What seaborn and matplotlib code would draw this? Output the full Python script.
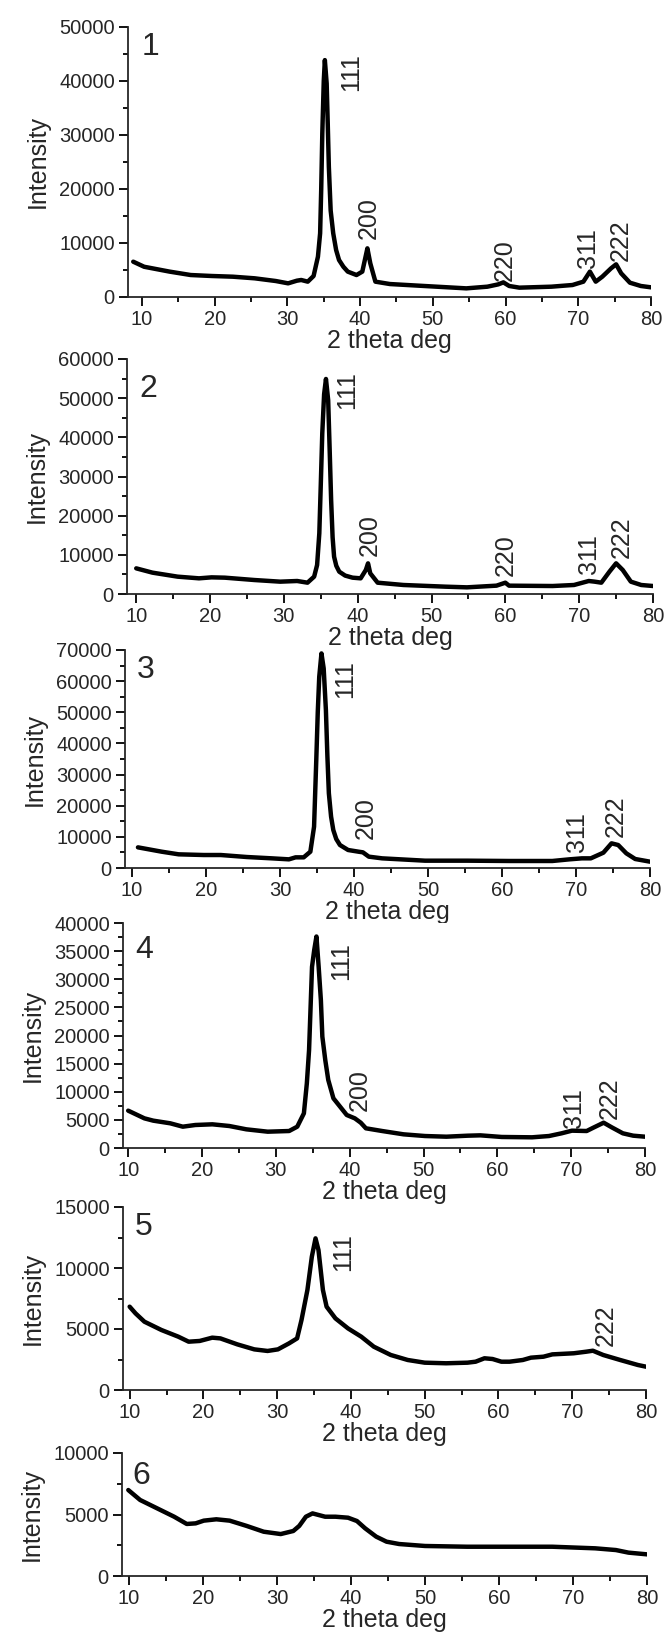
import matplotlib
matplotlib.use("Agg")
import matplotlib.pyplot as plt
from matplotlib.ticker import MultipleLocator
import seaborn as sns
import numpy as np

# ---------------- data ----------------
x1 = [8.8, 10.3, 13.8, 16.7, 19.6, 22.5, 25.5, 28.4, 30.1, 31.3, 31.9, 32.8, 33.6, 34.2, 34.5, 34.65,
      34.8, 35.0, 35.15, 35.4, 35.55, 35.7, 35.95, 36.3, 36.7, 37.1, 37.7, 38.3, 39.5, 40.3, 40.75, 41.0,
      41.4, 42.1, 44.1, 48.8, 54.6, 57.5, 59.0, 59.7, 60.5, 61.9, 66.3, 69.2, 70.7, 71.6, 72.4, 73.3,
      74.5, 75.2, 75.9, 77.1, 78.6, 80.0]
y1 = [6540, 5600, 4700, 4070, 3890, 3760, 3460, 2960, 2530, 3020, 3150, 2840, 3890, 7470, 11800, 20000,
      30300, 40000, 43870, 39550, 32000, 24100, 16000, 11800, 8700, 6850, 5600, 4700, 4070, 4700, 7470, 9010,
      6230, 2840, 2400, 2040, 1600, 1910, 2340, 2710, 2040, 1730, 1910, 2220, 2840, 4700, 2840, 3760,
      5300, 6050, 4380, 2650, 2040, 1790]

x2 = [10.0, 12.2, 15.6, 18.5, 20.2, 22.0, 26.0, 29.5, 31.8, 33.2, 34.1, 34.5, 34.8, 35.0, 35.2, 35.45,
      35.7, 36.0, 36.2, 36.4, 36.6, 36.8, 37.1, 37.5, 38.3, 39.3, 40.4, 41.1, 41.4, 41.7, 42.7, 46.2,
      51.9, 54.8, 58.8, 60.0, 60.5, 66.4, 69.3, 71.3, 72.1, 73.0, 74.1, 75.0, 75.9, 77.0, 78.4, 80.0]
y2 = [6550, 5450, 4430, 4000, 4250, 4170, 3570, 3150, 3320, 2890, 4430, 7400, 15500, 28000, 41000, 51000,
      54900, 49500, 37000, 24000, 14500, 9530, 7200, 5700, 4700, 4170, 4000, 6130, 7830, 5280, 2890, 2300,
      1870, 1700, 2130, 2890, 2130, 2040, 2300, 3320, 3150, 2890, 5700, 7830, 6130, 3150, 2300, 2040]

x3 = [10.8, 14.0, 16.3, 19.7, 22.0, 25.5, 28.9, 31.2, 32.1, 33.2, 34.1, 34.6, 34.75, 34.9, 35.1, 35.3,
      35.6, 35.9, 36.2, 36.4, 36.6, 36.9, 37.2, 37.6, 38.1, 39.2, 40.6, 41.2, 42.0, 43.8, 49.6, 55.3,
      61.0, 66.8, 69.1, 70.8, 72.0, 73.7, 74.8, 75.7, 76.8, 78.0, 80.0]
y3 = [6630, 5240, 4390, 4170, 4170, 3530, 3100, 2780, 3420, 3420, 5240, 13270, 24000, 34700, 50000, 61400,
      68900, 64100, 50700, 36000, 24000, 16500, 12200, 9300, 7380, 5780, 5240, 5030, 3640, 3100, 2350, 2350,
      2250, 2250, 2780, 3100, 3100, 4920, 7920, 7380, 4710, 2890, 2030]

x4 = [10.0, 12.2, 13.4, 15.7, 17.4, 19.1, 21.4, 23.7, 26.0, 28.9, 31.8, 32.9, 33.8, 34.2, 34.5, 34.9,
      35.2, 35.5, 35.8, 36.1, 36.3, 36.7, 37.1, 37.8, 38.7, 39.6, 40.7, 41.5, 42.2, 44.4, 47.3, 50.2,
      53.1, 56.0, 57.7, 60.6, 64.7, 67.0, 68.7, 70.1, 72.1, 73.0, 74.4, 75.5, 77.0, 78.4, 80.0]
y4 = [6640, 5270, 4860, 4390, 3790, 4090, 4210, 3910, 3320, 2900, 3020, 3790, 6160, 11500, 17400, 32200,
      35200, 37600, 32200, 26300, 19800, 15600, 12100, 8830, 7350, 5870, 5270, 4500, 3500, 3020, 2430, 2130,
      2010, 2190, 2250, 1960, 1900, 2130, 2610, 3080, 3020, 3610, 4500, 3670, 2610, 2190, 2010]

x5 = [10.0, 10.8, 12.0, 14.3, 16.6, 18.0, 19.5, 21.2, 22.3, 24.6, 26.9, 28.7, 30.1, 31.6, 32.7, 33.3,
      34.1, 34.7, 35.2, 35.6, 36.2, 36.7, 37.9, 39.6, 41.4, 43.1, 45.4, 47.7, 50.0, 52.9, 55.8, 56.9,
      58.1, 59.2, 60.4, 61.5, 63.3, 64.4, 66.1, 67.3, 70.2, 71.9, 72.8, 74.2, 76.5, 78.9, 80.0]
y5 = [6830, 6280, 5600, 4920, 4370, 3960, 4020, 4290, 4230, 3740, 3330, 3200, 3330, 3820, 4230, 5740,
      8200, 10930, 12430, 11470, 8200, 6830, 5870, 5050, 4370, 3550, 2870, 2460, 2240, 2190, 2240, 2320,
      2600, 2540, 2320, 2320, 2460, 2650, 2730, 2920, 3010, 3140, 3220, 2870, 2460, 2050, 1910]

x6 = [9.9, 11.5, 13.8, 16.1, 17.8, 19.0, 20.1, 21.8, 23.6, 25.9, 28.2, 30.5, 32.2, 33.0, 33.9, 34.8,
      35.3, 36.5, 37.9, 39.6, 40.8, 41.9, 43.4, 44.8, 46.5, 50.0, 55.7, 61.5, 67.2, 73.0, 75.8, 77.5, 80.0]
y6 = [6990, 6180, 5500, 4820, 4230, 4280, 4500, 4610, 4500, 4070, 3600, 3410, 3660, 4070, 4820, 5090,
      5010, 4820, 4820, 4740, 4470, 3880, 3200, 2790, 2600, 2440, 2380, 2380, 2380, 2250, 2110, 1900, 1760]

# peak (hkl) labels
lab1 = ["111", "200", "220", "311", "222"]
lab1_x = [38.7, 41.2, 59.9, 71.4, 75.9]
lab1_y = [41600, 14600, 6850, 9070, 10560]
lab2 = ["111", "200", "220", "311", "222"]
lab2_x = [38.5, 41.6, 60.0, 71.3, 75.8]
lab2_y = [52100, 15100, 9960, 10200, 14550]
lab3 = ["111", "200", "311", "222"]
lab3_x = [38.8, 41.6, 70.1, 75.4]
lab3_y = [60700, 16050, 11560, 16700]
lab4 = ["111", "200", "311", "222"]
lab4_x = [38.8, 41.3, 70.4, 75.2]
lab4_y = [33240, 10310, 7110, 8890]
lab5 = ["111", "222"]
lab5_x = [38.9, 74.6]
lab5_y = [11310, 5330]
lab6 = []
lab6_x = []
lab6_y = []

panel_names = ["1", "2", "3", "4", "5", "6"]
y_max = [50000, 60000, 70000, 40000, 15000, 10000]
y_step = [10000, 10000, 10000, 5000, 5000, 5000]
x_ticks = [10, 20, 30, 40, 50, 60, 70, 80]
x_label = "2 theta deg"
y_label = "Intensity"

# ---------------- styling / layout ----------------
sns.set_style("ticks")
plt.rcParams["font.family"] = ["Liberation Sans", "DejaVu Sans"]
plt.rcParams["axes.linewidth"] = 1.3

W, H = 664, 1637
fig = plt.figure(figsize=(W / 100, H / 100), dpi=100)

# pixel boxes (left, right, top, bottom)
boxes = [(128, 651, 27, 297), (127, 653, 359, 594), (125, 650, 650, 868),
         (123, 645, 923, 1148), (123, 646, 1207, 1390), (122, 647, 1453, 1576)]
x_left = [8.08, 8.75, 9.05, 9.3, 9.1, 9.05]
num_pos = [(0.027, 0.926), (0.023, 0.872), (0.023, 0.908), (0.023, 0.88), (0.023, 0.89), (0.019, 0.81)]

series = [(x1, y1), (x2, y2), (x3, y3), (x4, y4), (x5, y5), (x6, y6)]
labels = [(lab1, lab1_x, lab1_y), (lab2, lab2_x, lab2_y), (lab3, lab3_x, lab3_y),
          (lab4, lab4_x, lab4_y), (lab5, lab5_x, lab5_y), (lab6, lab6_x, lab6_y)]

for i in range(6):
    l, r, t, b = boxes[i]
    ax = fig.add_axes([l / W, 1 - b / H, (r - l) / W, (b - t) / H])
    xs, ys = series[i]
    sns.lineplot(x=xs, y=ys, ax=ax, color="black", linewidth=3.2, estimator=None, sort=False)
    ax.lines[-1].set_solid_joinstyle("round")
    ax.lines[-1].set_solid_capstyle("round")
    ax.set_xlim(x_left[i], 80)
    ax.set_ylim(0, y_max[i])
    ax.set_xticks(x_ticks)
    ax.xaxis.set_minor_locator(MultipleLocator(5))
    ax.set_yticks(np.arange(0, y_max[i] + 1, y_step[i]))
    ax.yaxis.set_minor_locator(MultipleLocator(y_step[i] / 2))
    ax.tick_params(axis="both", which="major", direction="out", length=6.5, width=1.3,
                   labelsize=14.5, pad=3, color="black")
    ax.tick_params(axis="both", which="minor", direction="out", length=3.5, width=1.3, color="black")
    sns.despine(ax=ax)
    ax.set_xlabel(x_label, fontsize=18, labelpad=0)
    ax.set_ylabel(y_label, fontsize=18, labelpad=7)
    ax.text(num_pos[i][0], num_pos[i][1], panel_names[i], transform=ax.transAxes,
            fontsize=23, ha="left", va="center")
    labs, lx, ly = labels[i]
    for s, px, py in zip(labs, lx, ly):
        ax.text(px, py, s, rotation=90, ha="center", va="center", fontsize=18)

fig.savefig("out.png", dpi=100)
